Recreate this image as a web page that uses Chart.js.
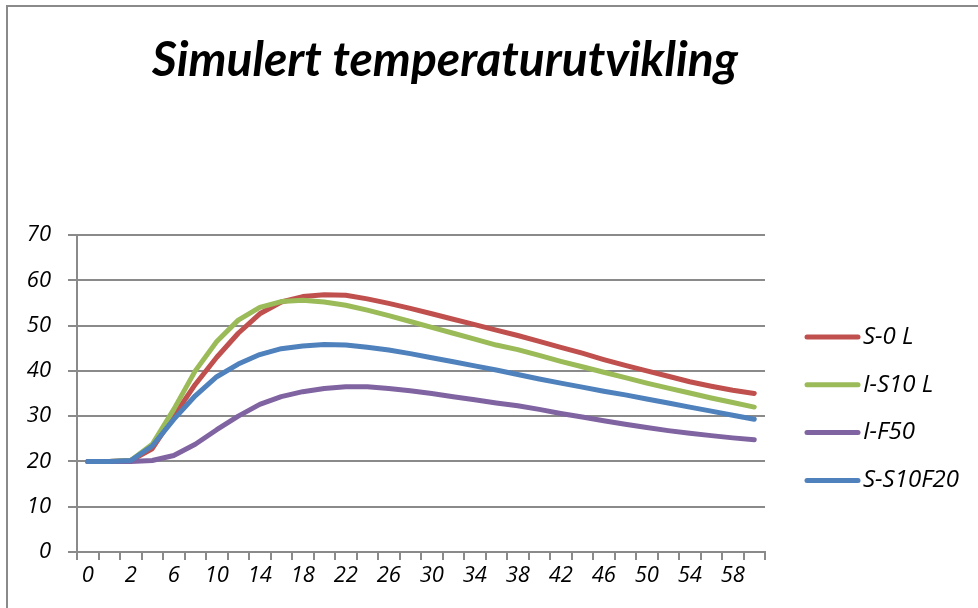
<!DOCTYPE html>
<html>
<head>
<meta charset="utf-8">
<script src="https://cdn.jsdelivr.net/npm/chart.js@4"></script>
<style>
  html, body { margin: 0; padding: 0; background: #fff; }
  canvas { display: block; }
</style>
</head>
<body>
<canvas id="chart" width="978" height="608"></canvas>
<script>
// time axis (minutes) - note 0,1,2 then every 2nd
const minutes = [0, 1, 2, 4, 6, 8, 10, 12, 14, 16, 18, 20, 22, 24, 26, 28, 30,
                 32, 34, 36, 38, 40, 42, 44, 46, 48, 50, 52, 54, 56, 58, 60];

const seriesNames = ['S-0 L', 'I-S10 L', 'I-F50', 'S-S10F20'];
const seriesColors = ['#C0504D', '#9BBB59', '#8064A2', '#4F81BD'];

// values
const s0L = [20, 20, 20.2, 22.8, 30.0, 37.0, 43.0, 48.3, 52.6, 55.2, 56.4, 56.8, 56.7, 55.9, 54.9, 53.8, 52.6,
             51.4, 50.2, 49.0, 47.8, 46.5, 45.2, 43.9, 42.5, 41.2, 40.0, 38.8, 37.6, 36.6, 35.7, 35.0];
const iS10L = [20, 20, 20.2, 23.8, 31.5, 40.0, 46.5, 51.2, 54.0, 55.3, 55.6, 55.2, 54.5, 53.4, 52.2, 50.9, 49.6,
               48.3, 47.0, 45.7, 44.7, 43.4, 42.1, 40.9, 39.7, 38.5, 37.3, 36.2, 35.1, 34.0, 33.0, 32.0];
const iF50 = [20, 20, 20.0, 20.2, 21.3, 23.8, 27.0, 30.0, 32.6, 34.3, 35.4, 36.1, 36.5, 36.5, 36.1, 35.6, 35.0,
              34.3, 33.6, 32.9, 32.3, 31.5, 30.6, 29.8, 29.0, 28.2, 27.5, 26.8, 26.2, 25.7, 25.2, 24.8];
const sS10F20 = [20, 20, 20.2, 23.4, 29.3, 34.5, 38.7, 41.5, 43.6, 44.9, 45.5, 45.8, 45.7, 45.2, 44.6, 43.8, 42.9,
                 42.0, 41.1, 40.2, 39.2, 38.2, 37.3, 36.4, 35.5, 34.7, 33.8, 32.9, 32.0, 31.1, 30.2, 29.3];

const titleText = 'Simulert temperaturutvikling';
const yMin = 0, yMax = 70, yStep = 10;

const gridColor = '#8a8a8a';
const titleFont = 'Lato, Carlito, Calibri, sans-serif';
const labelFont = '"Open Sans", Lato, sans-serif';

const seriesValues = [s0L, iS10L, iF50, sS10F20];

// title, legend and the sheet frame drawn on top of the chart
const sheetDecor = {
    id: 'sheetDecor',
    beforeDraw(chart) {
        const ctx = chart.ctx;
        ctx.save();
        ctx.fillStyle = '#fff';
        ctx.fillRect(0, 0, chart.width, chart.height);
        ctx.restore();
    },
    afterDraw(chart) {
        const ctx = chart.ctx;
        ctx.save();

        // frame (only top and left visible in the crop)
        ctx.strokeStyle = gridColor;
        ctx.lineWidth = 2;
        ctx.beginPath();
        ctx.moveTo(7, chart.height);
        ctx.lineTo(7, 6);
        ctx.lineTo(chart.width, 6);
        ctx.stroke();

        // title
        ctx.fillStyle = '#000';
        ctx.font = 'italic bold 48px ' + titleFont;
        ctx.textAlign = 'center';
        ctx.textBaseline = 'alphabetic';
        ctx.fillText(titleText, 445, 76);

        // legend
        ctx.font = 'italic 24px ' + labelFont;
        ctx.textAlign = 'left';
        ctx.textBaseline = 'middle';
        ctx.lineCap = 'round';
        chart.data.datasets.forEach((ds, i) => {
            const y = 337 + i * 47.8;
            ctx.strokeStyle = ds.borderColor;
            ctx.lineWidth = 5;
            ctx.beginPath();
            ctx.moveTo(807, y);
            ctx.lineTo(858, y);
            ctx.stroke();
            ctx.fillStyle = '#000';
            ctx.fillText(ds.label, 863, y);
        });

        ctx.restore();
    }
};

const datasets = seriesNames.map((name, i) => ({
    label: name,
    data: seriesValues[i],
    borderColor: seriesColors[i],
    backgroundColor: seriesColors[i],
    borderWidth: 5,
    borderCapStyle: 'round',
    borderJoinStyle: 'round',
    pointRadius: 0,
    tension: 0,
    fill: false,
    order: seriesNames.length - 1 - i   // last series drawn on top
}));

const config = {
    type: 'line',
    data: {
        labels: minutes,
        datasets: datasets
    },
    options: {
        responsive: false,
        animation: false,
        layout: {
            padding: { top: 235, right: 213, bottom: 0, left: 0 }
        },
        scales: {
            x: {
                offset: true,
                ticks: {
                    autoSkip: false,
                    maxRotation: 0,
                    padding: 3,
                    color: '#000',
                    font: { family: labelFont, style: 'italic', size: 22 },
                    callback: function(value, index) {
                        // every other category gets a label
                        if (index % 2 === 0) {
                            return String(minutes[index]);
                        }
                        return '';
                    }
                },
                grid: {
                    offset: true,
                    drawOnChartArea: false,
                    drawTicks: true,
                    tickLength: 8,
                    color: gridColor,
                    lineWidth: 2
                },
                border: { color: gridColor, width: 2 },
                afterFit: function(scale) { scale.height = 56; }
            },
            y: {
                min: yMin,
                max: yMax,
                ticks: {
                    stepSize: yStep,
                    padding: 17,
                    color: '#000',
                    font: { family: labelFont, style: 'italic', size: 22 }
                },
                grid: {
                    color: gridColor,
                    lineWidth: 2,
                    tickLength: 9
                },
                border: { color: gridColor, width: 2 },
                afterFit: function(scale) { scale.width = 77; }
            }
        },
        plugins: {
            legend: { display: false },
            tooltip: { enabled: false },
            title: { display: false }
        }
    },
    plugins: [sheetDecor]
};

new Chart(document.getElementById('chart'), config);
</script>
</body>
</html>
